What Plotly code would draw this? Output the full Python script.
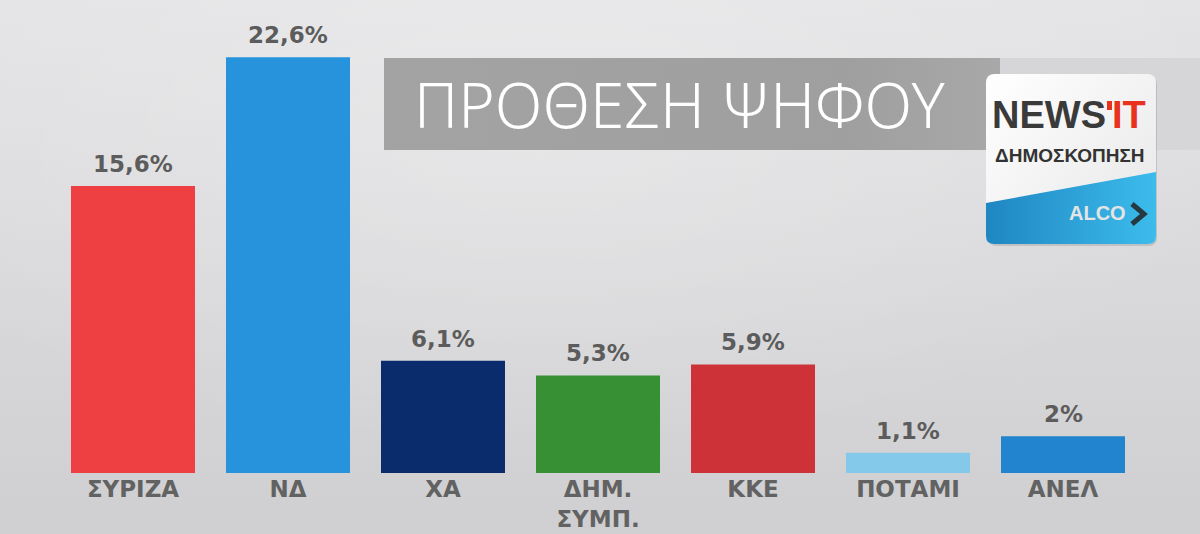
import base64
import plotly.graph_objects as go

# ---- data ----
parties = ["ΣΥΡΙΖΑ", "ΝΔ", "ΧΑ", "ΔΗΜ.<br>ΣΥΜΠ.", "ΚΚΕ", "ΠΟΤΑΜΙ", "ΑΝΕΛ"]
values = [15.6, 22.6, 6.1, 5.3, 5.9, 1.1, 2.0]
bar_colors = ["#ee3f42", "#2793dc", "#0b2c6c", "#379034", "#cd3238", "#84c9ea", "#2284ce"]
title_text = "ΠΡΟΘΕΣΗ ΨΗΦΟΥ"

W, H = 1200, 534
BASE = 473  # pixel row of the bar baseline (bottom of plot area)


def fmt(v):
    s = ("%.1f" % v).rstrip("0").rstrip(".")
    return s.replace(".", ",") + "%"


def px(x):
    return x / W


def py(y):
    return (BASE - y) / BASE


# background gradient as svg image
svg = f"""<svg xmlns='http://www.w3.org/2000/svg' width='{W}' height='{H}'>
<defs>
<linearGradient id='g' x1='0' y1='0' x2='0' y2='1'>
<stop offset='0' stop-color='#e4e4e6'/><stop offset='1' stop-color='#cfcfd1'/>
</linearGradient>
<radialGradient id='r' cx='0.45' cy='0.25' r='0.6'>
<stop offset='0' stop-color='#ffffff' stop-opacity='0.25'/><stop offset='1' stop-color='#ffffff' stop-opacity='0'/>
</radialGradient>
<linearGradient id='b' x1='0' y1='0' x2='1' y2='0'>
<stop offset='0' stop-color='#a3a3a3'/><stop offset='0.75' stop-color='#9f9f9f'/><stop offset='1' stop-color='#a8a8a8'/>
</linearGradient>
<linearGradient id='lg' x1='0' y1='0' x2='1' y2='1'>
<stop offset='0' stop-color='#ffffff'/><stop offset='1' stop-color='#e6e6e6'/>
</linearGradient>
<linearGradient id='lb' x1='0' y1='0' x2='1' y2='0'>
<stop offset='0' stop-color='#1f86c2'/><stop offset='1' stop-color='#3cbcec'/>
</linearGradient>
</defs>
<rect width='{W}' height='{H}' fill='url(#g)'/>
<rect width='{W}' height='{H}' fill='url(#r)'/>
<rect x='1000' y='58' width='200' height='92' fill='#d6d6d8'/>
<rect x='384' y='58' width='616' height='92' fill='url(#b)'/>
<rect x='988' y='76' width='169' height='170' rx='8' fill='#000' opacity='0.12'/>
<rect x='986' y='74' width='170' height='170' rx='8' fill='url(#lg)'/>
<path d='M986,203 L1156,172 L1156,236 Q1156,244 1148,244 L994,244 Q986,244 986,236 Z' fill='url(#lb)'/>
<rect x='1107' y='101' width='5' height='9' fill='#e8321e'/>
</svg>"""
bg_src = "data:image/svg+xml;base64," + base64.b64encode(svg.encode("utf-8")).decode()

fig = go.Figure()
fig.add_trace(go.Bar(
    x=list(range(len(parties))),
    y=values,
    marker=dict(color=bar_colors, line=dict(width=0)),
    hoverinfo="skip",
))

annotations = []
for i, v in enumerate(values):
    annotations.append(dict(
        x=i, y=v, xref="x", yref="y", text=fmt(v), showarrow=False,
        yanchor="bottom", yshift=7,
        font=dict(family="DejaVu Sans", size=23, color="#5c5c5c", weight="bold"),
    ))

# title banner text
annotations.append(dict(
    x=px(680), y=py(104), xref="paper", yref="paper", text=title_text, showarrow=False,
    xanchor="center", yanchor="middle",
    font=dict(family="Noto Sans", size=62, color="#ffffff", weight=300),
))
# logo texts
annotations.append(dict(
    x=px(990), y=py(115), xref="paper", yref="paper", text="NEWS", showarrow=False,
    xanchor="left", yanchor="middle",
    font=dict(family="Liberation Sans", size=38, color="#3a3a3a", weight="bold"),
))
annotations.append(dict(
    x=px(1148), y=py(115), xref="paper", yref="paper", text="IT", showarrow=False,
    xanchor="right", yanchor="middle",
    font=dict(family="Liberation Sans", size=38, color="#e8321e", weight="bold"),
))
annotations.append(dict(
    x=px(1070), y=py(155), xref="paper", yref="paper", text="ΔΗΜΟΣΚΟΠΗΣΗ", showarrow=False,
    xanchor="center", yanchor="middle",
    font=dict(family="Liberation Sans", size=19, color="#333333", weight="bold"),
))
annotations.append(dict(
    x=px(1097), y=py(213), xref="paper", yref="paper", text="ALCO", showarrow=False,
    xanchor="center", yanchor="middle",
    font=dict(family="Liberation Sans", size=20, color="#e4e4e4", weight="bold"),
))

shapes = [
    dict(type="path", xref="paper", yref="paper",
         path=f"M{px(1132)},{py(204)} L{px(1144)},{py(214)} L{px(1132)},{py(224)}",
         line=dict(color="#263840", width=5)),
]

fig.update_layout(
    width=W, height=H,
    margin=dict(l=0, r=0, t=0, b=H - BASE, pad=0),
    paper_bgcolor="#d8d8da", plot_bgcolor="rgba(0,0,0,0)",
    bargap=0.2, showlegend=False,
    xaxis=dict(range=[-133 / 155, -133 / 155 + W / 155], tickmode="array",
               tickvals=list(range(len(parties))), ticktext=parties,
               showgrid=False, zeroline=False, showline=False, ticks="",
               tickfont=dict(family="DejaVu Sans", size=23, color="#626262", weight="bold"),
               ticklabelstandoff=0, fixedrange=True),
    yaxis=dict(range=[0, BASE / 18.4], visible=False, showgrid=False, zeroline=False,
               fixedrange=True),
    images=[dict(source=bg_src, xref="paper", yref="paper", x=0, y=1,
                 sizex=1, sizey=H / BASE, xanchor="left", yanchor="top",
                 sizing="stretch", layer="below")],
    annotations=annotations,
    shapes=shapes,
)

fig.write_html(
    "out.html",
    config={"displayModeBar": False},
    post_script="document.body.style.margin='0px';document.body.style.overflow='hidden';",
)
